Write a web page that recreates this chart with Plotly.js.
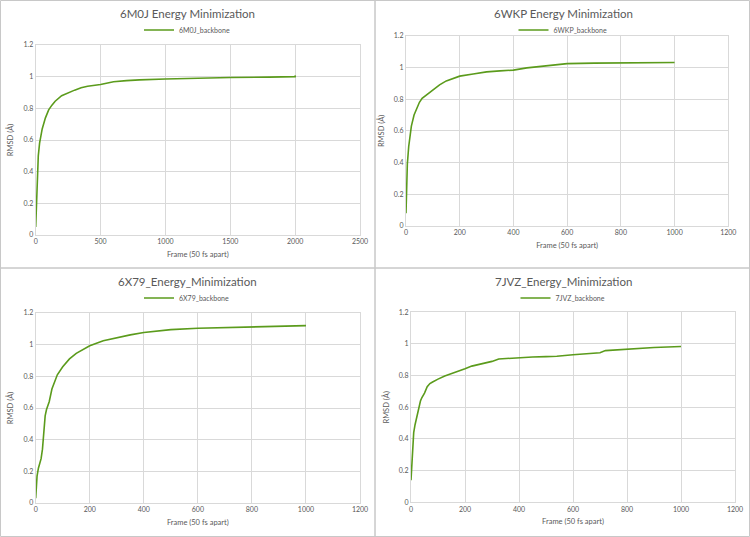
<!DOCTYPE html>
<html>
<head>
<meta charset="utf-8">
<script src="https://cdn.plot.ly/plotly-3.0.1.min.js"></script>
<style>
  html, body { margin: 0; padding: 0; background: #fff; }
  #chart { width: 750px; height: 537px; }
</style>
</head>
<body>
<div id="chart"></div>
<script>
// 6M0J
const m0jFrame = [0, 5, 10, 15, 20, 30, 40, 50, 75, 100, 125, 150, 200, 250, 300, 350, 400, 500, 600, 700, 800, 1000, 1200, 1500, 1800, 2000, 2001];
const m0jRmsd = [0.05, 0.2, 0.35, 0.45, 0.5, 0.58, 0.63, 0.67, 0.74, 0.79, 0.82, 0.845, 0.88, 0.9, 0.915, 0.93, 0.94, 0.95, 0.968, 0.975, 0.98, 0.985, 0.99, 0.995, 0.997, 1.0, 1.008];

// 6WKP
const wkpFrame = [0, 5, 10, 15, 20, 30, 40, 50, 60, 75, 100, 125, 150, 175, 200, 250, 300, 350, 400, 450, 500, 550, 600, 700, 800, 900, 1000];
const wkpRmsd = [0.08, 0.39, 0.5, 0.58, 0.63, 0.7, 0.745, 0.78, 0.805, 0.825, 0.855, 0.89, 0.915, 0.93, 0.945, 0.958, 0.972, 0.978, 0.983, 0.997, 1.007, 1.018, 1.024, 1.027, 1.029, 1.028, 1.031];

// 6X79
const x79Frame = [0, 5, 10, 15, 20, 25, 30, 35, 40, 50, 60, 70, 80, 100, 125, 150, 175, 200, 250, 300, 350, 400, 450, 500, 600, 700, 800, 900, 1000];
const x79Rmsd = [0.03, 0.17, 0.22, 0.25, 0.28, 0.34, 0.44, 0.55, 0.59, 0.64, 0.72, 0.77, 0.81, 0.86, 0.91, 0.945, 0.97, 0.993, 1.025, 1.045, 1.062, 1.077, 1.088, 1.095, 1.104, 1.108, 1.112, 1.117, 1.12];

// 7JVZ
const jvzFrame = [0, 5, 8, 10, 15, 20, 25, 30, 35, 40, 50, 60, 70, 80, 90, 100, 125, 150, 180, 200, 225, 250, 300, 325, 400, 450, 500, 540, 600, 650, 700, 720, 800, 900, 1000];
const jvzRmsd = [0.14, 0.3, 0.42, 0.44, 0.49, 0.53, 0.56, 0.62, 0.64, 0.66, 0.69, 0.73, 0.75, 0.76, 0.77, 0.778, 0.798, 0.812, 0.828, 0.843, 0.86, 0.87, 0.89, 0.905, 0.915, 0.918, 0.92, 0.922, 0.932, 0.94, 0.945, 0.958, 0.968, 0.978, 0.984];

const titles = ['6M0J Energy Minimization', '6WKP Energy Minimization', '6X79_Energy_Minimization', '7JVZ_Energy_Minimization'];
const names = ['6M0J_backbone', '6WKP_backbone', '6X79_backbone', '7JVZ_backbone'];
const xMax = [2500, 1200, 1200, 1200];
const xStep = [500, 200, 200, 200];

const green = '#5b9b1c';
const textGray = '#595959';
const gridGray = '#d9d9d9';
const fontFam = 'Lato, "Open Sans", sans-serif';

var frames = [m0jFrame, wkpFrame, x79Frame, jvzFrame];
var rmsd = [m0jRmsd, wkpRmsd, x79Rmsd, jvzRmsd];

// plot boxes in pixels: [left, right, top, bottom]
var boxes = [
	[35.7, 360, 45, 235],
	[406, 728.3, 35.7, 226],
	[35.7, 360, 313, 503],
	[411, 735, 312.3, 502.3],
];
var W = 750, H = 537;

var data = [];
var layout = {
	width: W,
	height: H,
	margin: { l: 0, r: 0, t: 0, b: 0 },
	paper_bgcolor: '#fff',
	plot_bgcolor: '#fff',
	showlegend: true,
	font: { family: fontFam, size: 7, color: textGray },
	annotations: [],
	shapes: [],
};

for (var i = 0; i < 4; i++) {
	var n = i === 0 ? '' : String(i + 1);
	var b = boxes[i];
	data.push({
		x: frames[i],
		y: rmsd[i],
		type: 'scatter',
		mode: 'lines',
		name: names[i],
		xaxis: 'x' + n,
		yaxis: 'y' + n,
		legend: 'legend' + n,
		showlegend: true,
		line: { color: green, width: 1.6 },
	});

	layout['xaxis' + n] = {
		domain: [b[0] / W, b[1] / W],
		anchor: 'y' + n,
		range: [0, xMax[i]],
		dtick: xStep[i],
		showgrid: true,
		gridcolor: gridGray,
		zeroline: false,
		showline: true,
		linecolor: gridGray,
		mirror: true,
		ticks: '',
		tickfont: { size: 7, color: textGray },
		title: { text: 'Frame (50 fs apart)', font: { size: 7.5, color: textGray }, standoff: 7 },
	};
	layout['yaxis' + n] = {
		domain: [1 - b[3] / H, 1 - b[2] / H],
		anchor: 'x' + n,
		range: [0, 1.2],
		dtick: 0.2,
		showgrid: true,
		gridcolor: gridGray,
		zeroline: false,
		showline: true,
		linecolor: gridGray,
		mirror: true,
		ticks: '',
		tickfont: { size: 7, color: textGray },
		title: { text: 'RMSD (Å)', font: { size: 7.5, color: textGray }, standoff: 8 },
	};

	var cx = (i % 2 === 0 ? 187 : 563) / W;
	var panelTop = i < 2 ? 0 : 268;
	layout['legend' + n] = {
		x: cx,
		y: 1 - (panelTop + 30) / H,
		xanchor: 'center',
		yanchor: 'middle',
		orientation: 'h',
		bgcolor: 'rgba(0,0,0,0)',
		font: { size: 7, color: textGray },
	};
	layout.annotations.push({
		text: titles[i],
		xref: 'paper',
		yref: 'paper',
		x: cx,
		y: 1 - (panelTop + 13) / H,
		xanchor: 'center',
		yanchor: 'middle',
		showarrow: false,
		font: { size: 11.5, color: textGray },
	});
}

// panel frames
var panels = [[0.5, 375, 0.5, 268], [375, 749.5, 0.5, 268], [0.5, 375, 268, 536.5], [375, 749.5, 268, 536.5]];
panels.forEach(function (p) {
	layout.shapes.push({
		type: 'rect',
		xref: 'paper',
		yref: 'paper',
		x0: p[0] / W,
		x1: p[1] / W,
		y0: 1 - p[2] / H,
		y1: 1 - p[3] / H,
		line: { color: '#c8c8c8', width: 1 },
	});
});

var config = { displayModeBar: false, staticPlot: true };

Plotly.newPlot('chart', data, layout, config);
</script>
</body>
</html>
